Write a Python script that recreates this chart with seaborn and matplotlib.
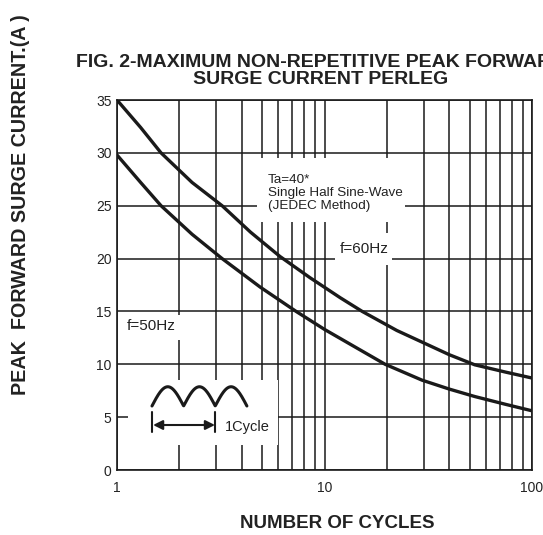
import numpy as np
import pandas as pd
import seaborn as sns
import matplotlib.pyplot as plt
from matplotlib.patches import Rectangle

# values
cycles_upper = [1, 1.3, 1.63, 2.3, 3.21, 4.4, 6.1, 8.5, 11.9, 15.2, 22.3, 29.5, 40, 53, 75, 100]
current_upper = [35, 32.4, 30, 27.2, 25, 22.5, 20.2, 18.2, 16.3, 15.0, 13.2, 12.1, 10.9, 9.95, 9.25, 8.7]
cycles_lower = [1, 1.3, 1.63, 2.3, 3.21, 4.9, 7.3, 10, 13.3, 19.6, 29.5, 40, 53, 75, 100]
current_lower = [29.8, 27.2, 25, 22.3, 20, 17.3, 15, 13.3, 11.9, 10.0, 8.5, 7.65, 6.95, 6.2, 5.6]

x_ticks = [1, 10, 100]
y_ticks = [0, 5, 10, 15, 20, 25, 30, 35]

df = pd.concat([
    pd.DataFrame({'cycles': cycles_upper, 'current': current_upper, 'curve': 'upper'}),
    pd.DataFrame({'cycles': cycles_lower, 'current': current_lower, 'curve': 'lower'}),
])

sns.set_theme(style='white')
plt.rcParams['font.family'] = ['Liberation Sans', 'DejaVu Sans']

fig = plt.figure(figsize=(5.43, 5.35), dpi=100)
ax = fig.add_axes([117 / 543, 65 / 535, 415 / 543, 370 / 535])

sns.lineplot(data=df, x='cycles', y='current', hue='curve', palette=['#1a1a1a', '#1a1a1a'],
             linewidth=2.4, legend=False, ax=ax, zorder=5, sort=False, estimator=None)

ax.set_xscale('log')
ax.set_xlim(1, 100)
ax.set_ylim(0, 35)
ax.set_xticks(x_ticks)
ax.set_xticklabels([str(t) for t in x_ticks])
ax.set_yticks(y_ticks)
ax.set_xlabel('')
ax.set_ylabel('')
ax.tick_params(axis='both', which='both', length=0, labelsize=10, colors='#222222', pad=8)
ax.tick_params(axis='y', pad=4)

ax.grid(True, which='both', axis='x', color='#1a1a1a', linewidth=1.1)
ax.grid(True, which='major', axis='y', color='#1a1a1a', linewidth=1.1)
ax.set_axisbelow(True)
for s in ax.spines.values():
    s.set_color('#1a1a1a')
    s.set_linewidth(1.2)

# white boxes behind the annotations (they cut the grid)
for (x0, y0, w, h) in [(0.337, 0.670, 0.357, 0.173),
                       (0.525, 0.554, 0.138, 0.087),
                       (0.007, 0.351, 0.160, 0.068),
                       (0.0265, 0.068, 0.3615, 0.175)]:
    ax.add_patch(Rectangle((x0, y0), w, h, transform=ax.transAxes, facecolor='white',
                           edgecolor='none', zorder=2))

ax.text(0.364, 0.800, 'Ta=40*\nSingle Half Sine-Wave\n(JEDEC Method)', transform=ax.transAxes,
        fontsize=9.7, va='top', ha='left', linespacing=1.12, color='#222222', zorder=6)
ax.text(0.595, 0.597, 'f=60Hz', transform=ax.transAxes, fontsize=11, ha='center',
        va='center', color='#222222', zorder=6)
ax.text(0.024, 0.390, 'f=50Hz', transform=ax.transAxes, fontsize=11, ha='left',
        va='center', color='#222222', zorder=6)

# half sine wave symbol
t = np.linspace(0, 3 * np.pi, 300)
hx = 0.0843 + (0.313 - 0.0843) * t / (3 * np.pi)
hy = 0.173 + 0.052 * np.abs(np.sin(t))
ax.plot(hx, hy, transform=ax.transAxes, color='#1a1a1a', lw=2.2, zorder=6)
ax.annotate('', xy=(0.087, 0.1216), xytext=(0.236, 0.1216), xycoords='axes fraction',
            arrowprops=dict(arrowstyle='<|-|>', color='#1a1a1a', lw=1.5, mutation_scale=14,
                            shrinkA=0, shrinkB=0), zorder=6)
for bx in (0.0843, 0.236):
    ax.plot([bx, bx], [0.103, 0.157], transform=ax.transAxes, color='#1a1a1a', lw=1.5, zorder=6)
ax.text(0.260, 0.116, '1Cycle', transform=ax.transAxes, fontsize=10.5, ha='left',
        va='center', color='#222222', zorder=6)

fig.text(0.591, 0.867, 'FIG. 2-MAXIMUM NON-REPETITIVE PEAK FORWARD\nSURGE CURRENT PERLEG',
         ha='center', va='center', fontsize=14, fontweight='bold', linespacing=0.98, color='#222222')
fig.text(0.037, 0.617, 'PEAK  FORWARD SURGE CURRENT.(A )', rotation=90, ha='center', va='center',
         fontsize=14.2, fontweight='bold', color='#222222')
fig.text(0.621, 0.022, 'NUMBER OF CYCLES', ha='center', va='center', fontsize=13.5,
         fontweight='bold', color='#222222')

fig.savefig('out.png', dpi=100)
